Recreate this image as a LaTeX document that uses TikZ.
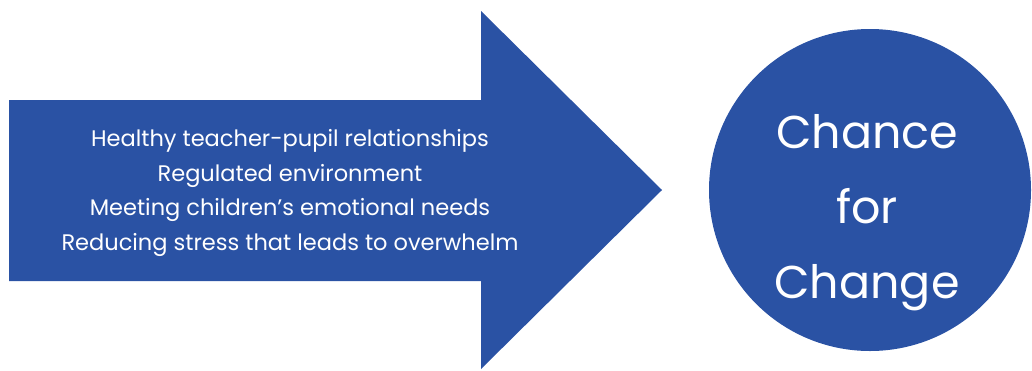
\documentclass[tikz,border=0pt]{standalone}
\usepackage{fontspec}
\setmainfont{Poppins}
\usepackage{xcolor}
\usetikzlibrary{calc,positioning}

\definecolor{arrowblue}{HTML}{2A52A4}

\begin{document}
\begin{tikzpicture}[x=1pt,y=-1pt]
        \useasboundingbox (0,0) rectangle (1032,370);
        % big arrow
        \coordinate (tail) at (9,100);
        \coordinate (tip) at (662,190);
        \fill[arrowblue] (tail) -- (481,100) -- (481,11) -- (tip) -- (481,369) -- (481,281) -- (9,281) -- cycle;
        \node[text=white, align=center, font=\fontsize{22.5}{34.5}\selectfont] (factors) at (290,193) {
            Healthy teacher-pupil relationships\\
            Regulated environment\\
            Meeting children’s emotional needs\\
            Reducing stress that leads to overwhelm
        };
        % result
        \node[circle, fill=arrowblue, minimum size=322pt, inner sep=0pt] (change) at (870,190) {};
        \node[text=white, align=center, font=\fontsize{46}{75}\selectfont] (changetext) at (867,213) {
            Chance\\ for\\ Change
        };
    \end{tikzpicture}
\end{document}
